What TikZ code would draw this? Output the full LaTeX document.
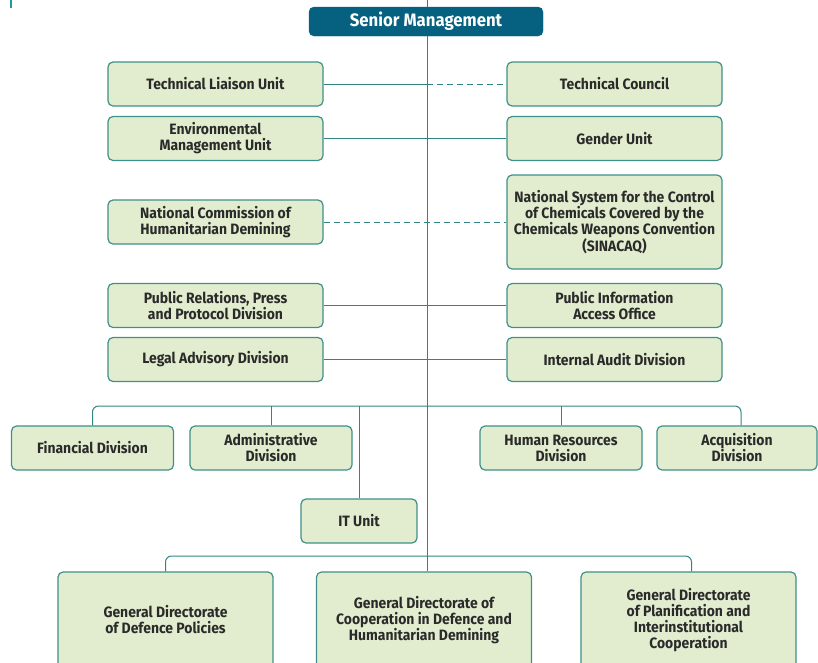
\documentclass[tikz,border=0pt]{standalone}
\usepackage{fontspec}
\setmainfont{Fira Sans}[FakeStretch=0.93]
\definecolor{boxfill}{HTML}{E1EDCE}
\definecolor{boxline}{HTML}{3F8F8A}
\definecolor{linkcol}{HTML}{2F8583}
\definecolor{headfill}{HTML}{05617F}
\definecolor{txt}{HTML}{2A2A2A}
\definecolor{marker}{HTML}{1E9AA0}
\tikzset{
  box/.style={draw=boxline, line width=1.2pt, fill=boxfill, rounded corners=5pt,
    align=center, font=\bfseries\fontsize{15}{16}\selectfont, text=txt,
    inner sep=2pt},
  sbox/.style={box, minimum width=215pt, minimum height=44pt},
  dbox/.style={box, minimum width=162pt, minimum height=44pt},
  head/.style={draw=headfill, fill=headfill, rounded corners=5pt, text=white,
    font=\bfseries\fontsize{18}{20}\selectfont, minimum width=234pt, minimum height=29pt},
  link/.style={draw=linkcol, line width=1pt},
  dlink/.style={link, dash pattern=on 6pt off 4pt},
}
\begin{document}
\begin{tikzpicture}[x=1pt,y=-1pt]
\useasboundingbox (0,0) rectangle (818,662);
\clip (0,0) rectangle (818,662);
% small marker at the top left
\draw[marker, line width=2pt] (11,0) -- (11,8);

% spine position and branch levels
\coordinate (top) at (427,0);
\coordinate (bus) at (427,406);
\coordinate (bus2) at (427,556);

\node[head] (sm) at (426,21.5) {Senior Management};

% advisory units, left and right of the spine
\node[sbox] (tlu) at (215.5,84) {Technical Liaison Unit};
\node[sbox] (tc)  at (614.5,84) {Technical Council};
\node[sbox] (emu) at (215.5,138.5) {Environmental\\Management Unit};
\node[sbox] (gu)  at (614.5,138.5) {Gender Unit};
\node[sbox] (ncd) at (215.5,222) {National Commission of\\Humanitarian Demining};
\node[sbox, minimum height=94pt] (nsc) at (614.5,222) {National System for the Control\\of Chemicals Covered by the\\Chemicals Weapons Convention\\(SINACAQ)};
\node[sbox] (pr)  at (215.5,305.5) {Public Relations, Press\\and Protocol Division};
\node[sbox] (pia) at (614.5,305.5) {Public Information\\Access Office};
\node[sbox] (lad) at (215.5,359.5) {Legal Advisory Division};
\node[sbox] (iad) at (614.5,359.5) {Internal Audit Division};

% divisions
\node[dbox] (fin) at (92.5,448) {Financial Division};
\node[dbox] (adm) at (271,448) {Administrative\\Division};
\node[dbox] (hr)  at (561,448) {Human Resources\\Division};
\node[dbox, minimum width=160pt] (acq) at (737,448) {Acquisition\\Division};
\node[box, minimum width=116pt, minimum height=44pt] (it) at (359,521) {IT Unit};

% general directorates
\node[sbox, minimum height=96pt] (gd1) at (165.5,620) {General Directorate\\of Defence Policies};
\node[sbox, minimum height=96pt] (gd2) at (424,620) {General Directorate of\\Cooperation in Defence and\\Humanitarian Demining};
\node[sbox, minimum height=96pt] (gd3) at (688.5,620) {General Directorate\\of Planification and\\Interinstitutional\\Cooperation};

% spine
\draw[link] (top) -- (top |- sm.north);
\draw[link] (top |- sm.south) -- (top |- gd2.north);

% advisory connectors
\draw[link] (tlu.east) -- (tlu.east -| top);
\draw[dlink] (tlu.east -| top) -- (tc.west);
\draw[link] (emu.east) -- (gu.west);
\draw[dlink] (ncd.east) -- (nsc.west);
\draw[link] (pr.east) -- (pia.west);
\draw[link] (lad.east) -- (iad.west);

% division bus
\draw[link, rounded corners=6pt] (fin.north) -- (fin.north |- bus) -- ([xshift=4pt]acq.north |- bus) -- ([xshift=4pt]acq.north);
\draw[link] (adm.north) -- (adm.north |- bus);
\draw[link] (hr.north) -- (hr.north |- bus);
\draw[link] (it.north) -- (it.north |- bus);

% directorate bus
\draw[link, rounded corners=6pt] (gd1.north) -- (gd1.north |- bus2) -- ([xshift=3pt]gd3.north |- bus2) -- ([xshift=3pt]gd3.north);
\end{tikzpicture}
\end{document}
